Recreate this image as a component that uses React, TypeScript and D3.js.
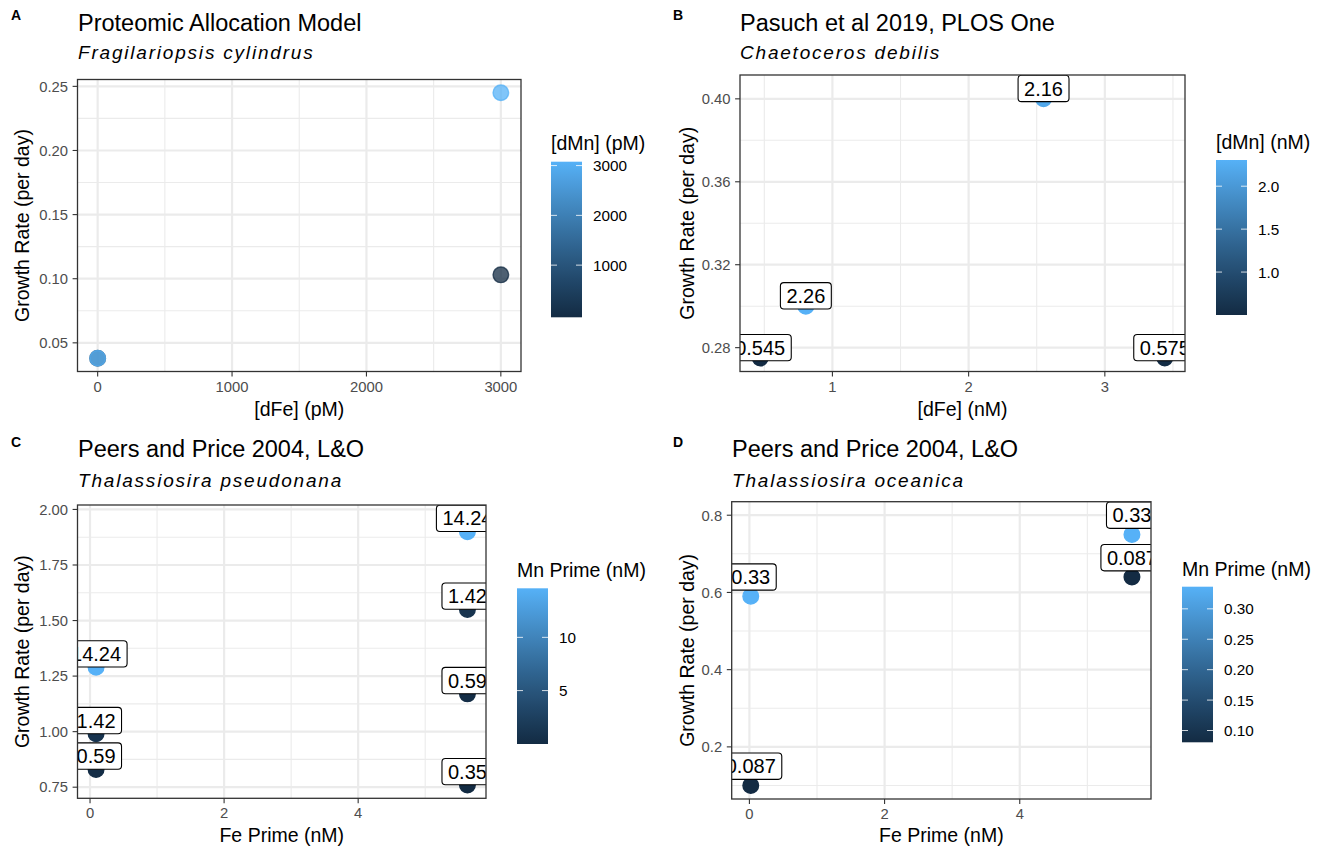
import React from "react";
import * as d3 from "d3";

// ggplot-style continuous colour ramp for Mn
const LOW = "#132B43";
const HIGH = "#56B1F7";
const FONT = '"Liberation Sans", Arial, Helvetica, sans-serif';

// A: Proteomic Allocation Model, Fragilariopsis cylindrus
const aFe = [0, 0, 3000, 3000];
const aMn = [30, 3000, 30, 3000];
const aGrowth = [0.038, 0.038, 0.103, 0.245];
const aXTicks = [0, 1000, 2000, 3000];
const aYTicks = [0.05, 0.1, 0.15, 0.2, 0.25];
const aLegendTicks = [1000, 2000, 3000];

// B: Pasuch et al 2019, Chaetoceros debilis
const bFe = [0.47, 0.805, 2.55, 3.44];
const bMn = [0.545, 2.26, 2.16, 0.575];
const bGrowth = [0.275, 0.3, 0.4, 0.275];
const bXTicks = [1, 2, 3];
const bYTicks = [0.28, 0.32, 0.36, 0.4];
const bLegendTicks = [1.0, 1.5, 2.0];

// C: Peers and Price 2004, Thalassiosira pseudonana
const cFe = [0.09, 0.09, 0.09, 5.63, 5.63, 5.63, 5.63];
const cMn = [14.24, 1.42, 0.59, 14.24, 1.42, 0.59, 0.35];
const cGrowth = [1.29, 0.99, 0.83, 1.9, 1.55, 1.17, 0.76];
const cXTicks = [0, 2, 4];
const cYTicks = [0.75, 1.0, 1.25, 1.5, 1.75, 2.0];
const cLegendTicks = [5, 10];

// D: Peers and Price 2004, Thalassiosira oceanica
const dFe = [0.02, 0.02, 5.66, 5.66];
const dMn = [0.33, 0.087, 0.33, 0.087];
const dGrowth = [0.59, 0.1, 0.75, 0.64];
const dXTicks = [0, 2, 4];
const dYTicks = [0.2, 0.4, 0.6, 0.8];
const dLegendTicks = [0.1, 0.15, 0.2, 0.25, 0.3];

let measureCtx: CanvasRenderingContext2D | null = null;
function textWidth(s: string, size: number) {
  if (!measureCtx && typeof document !== "undefined") {
    measureCtx = document.createElement("canvas").getContext("2d");
  }
  if (!measureCtx) return s.length * size * 0.55;
  measureCtx.font = `${size}px ${FONT}`;
  return measureCtx.measureText(s).width;
}

function expand([lo, hi]: [number, number], mult = 0.05): [number, number] {
  const r = hi - lo;
  return [lo - r * mult, hi + r * mult];
}

function minorBreaks(major: number[], domain: [number, number]) {
  const step = major[1] - major[0];
  const out: number[] = [];
  for (let i = -1; i < major.length; i++) {
    const m = major[0] + (i + 0.5) * step;
    if (m >= domain[0] && m <= domain[1]) out.push(m);
  }
  return out;
}

type Spec = {
  tag: string;
  title: string;
  subtitle: string;
  xLabel: string;
  legendTitle: string;
  fe: number[];
  mn: number[];
  growth: number[];
  showLabels: boolean;
  nudge: number;
  alpha: number;
  xTicks: number[];
  yTicks: number[];
  legendTicks: number[];
  xFmt: (v: number) => string;
  yFmt: (v: number) => string;
  legendFmt: (v: number) => string;
  box: { left: number; right: number; top: number; bottom: number };
  legend: { x: number; top: number; bottom: number; titleY: number };
  text: {
    titleX: number;
    titleY: number;
    subY: number;
    tagX: number;
    tagY: number;
    yLabX: number;
    xLabY: number;
  };
};

const specs: Spec[] = [
  {
    tag: "A",
    title: "Proteomic Allocation Model",
    subtitle: "Fragilariopsis cylindrus",
    xLabel: "[dFe] (pM)",
    legendTitle: "[dMn] (pM)",
    fe: aFe,
    mn: aMn,
    growth: aGrowth,
    showLabels: false,
    nudge: 0,
    alpha: 0.75,
    xTicks: aXTicks,
    yTicks: aYTicks,
    legendTicks: aLegendTicks,
    xFmt: d3.format("d"),
    yFmt: d3.format(".2f"),
    legendFmt: d3.format("d"),
    box: { left: 77.5, right: 521, top: 79.5, bottom: 371.5 },
    legend: { x: 551, top: 161.7, bottom: 317.3, titleY: 150 },
    text: { titleX: 78, titleY: 31, subY: 59, tagX: 11, tagY: 19.5, yLabX: 29, xLabY: 416 },
  },
  {
    tag: "B",
    title: "Pasuch et al 2019, PLOS One",
    subtitle: "Chaetoceros debilis",
    xLabel: "[dFe] (nM)",
    legendTitle: "[dMn] (nM)",
    fe: bFe,
    mn: bMn,
    growth: bGrowth,
    showLabels: true,
    nudge: 0.005,
    alpha: 1,
    xTicks: bXTicks,
    yTicks: bYTicks,
    legendTicks: bLegendTicks,
    xFmt: d3.format("d"),
    yFmt: d3.format(".2f"),
    legendFmt: d3.format(".1f"),
    box: { left: 740, right: 1185, top: 75, bottom: 371.5 },
    legend: { x: 1216, top: 160, bottom: 315, titleY: 149 },
    text: { titleX: 740, titleY: 31, subY: 59, tagX: 673, tagY: 19.5, yLabX: 694, xLabY: 416 },
  },
  {
    tag: "C",
    title: "Peers and Price 2004, L&O",
    subtitle: "Thalassiosira pseudonana",
    xLabel: "Fe Prime (nM)",
    legendTitle: "Mn Prime (nM)",
    fe: cFe,
    mn: cMn,
    growth: cGrowth,
    showLabels: true,
    nudge: 0.06,
    alpha: 1,
    xTicks: cXTicks,
    yTicks: cYTicks,
    legendTicks: cLegendTicks,
    xFmt: d3.format("d"),
    yFmt: d3.format(".2f"),
    legendFmt: d3.format("d"),
    box: { left: 77.5, right: 486, top: 505, bottom: 798.3 },
    legend: { x: 517, top: 588.3, bottom: 744, titleY: 577 },
    text: { titleX: 78, titleY: 456.7, subY: 486.7, tagX: 11, tagY: 446.5, yLabX: 29, xLabY: 842 },
  },
  {
    tag: "D",
    title: "Peers and Price 2004, L&O",
    subtitle: "Thalassiosira oceanica",
    xLabel: "Fe Prime (nM)",
    legendTitle: "Mn Prime (nM)",
    fe: dFe,
    mn: dMn,
    growth: dGrowth,
    showLabels: true,
    nudge: 0.05,
    alpha: 1,
    xTicks: dXTicks,
    yTicks: dYTicks,
    legendTicks: dLegendTicks,
    xFmt: d3.format("d"),
    yFmt: d3.format(".1f"),
    legendFmt: d3.format(".2f"),
    box: { left: 731.7, right: 1151, top: 501.7, bottom: 799 },
    legend: { x: 1182, top: 586.7, bottom: 742.3, titleY: 576 },
    text: { titleX: 732, titleY: 456.7, subY: 486.7, tagX: 673, tagY: 446.5, yLabX: 694, xLabY: 842 },
  },
];

const AXIS_TEXT = 14.8;
const TITLE_SIZE = 23.5;
const SUB_SIZE = 19;
const AXIS_TITLE = 19.5;
const LEGEND_TEXT = 15.3;
const LABEL_SIZE = 20;
const LABEL_PAD = 6;

function Panel({ spec }: { spec: Spec }) {
  const { box, legend, text } = spec;
  const xDomain = expand(d3.extent(spec.fe) as [number, number]);
  const yTop = spec.showLabels
    ? (d3.max(spec.growth.map((g) => g + spec.nudge)) as number)
    : (d3.max(spec.growth) as number);
  const yDomain = expand([d3.min(spec.growth) as number, yTop]);
  const x = d3.scaleLinear().domain(xDomain).range([box.left, box.right]);
  const y = d3.scaleLinear().domain(yDomain).range([box.bottom, box.top]);
  const mnExt = d3.extent(spec.mn) as [number, number];
  const color = d3
    .scaleLinear<string>()
    .domain(mnExt)
    .range([LOW, HIGH])
    .interpolate(d3.interpolateLab);

  const xMinor = minorBreaks(spec.xTicks, xDomain);
  const yMinor = minorBreaks(spec.yTicks, yDomain);
  const clipId = `clip-${spec.tag}`;
  const gradId = `grad-${spec.tag}`;
  const cx = (box.left + box.right) / 2;
  const cy = (box.top + box.bottom) / 2;

  // colourbar
  const barW = 31;
  const barH = legend.bottom - legend.top;
  const stops = d3.range(0, 1.0001, 0.05);
  const legendY = (v: number) =>
    legend.bottom - (0.025 + (0.95 * (v - mnExt[0])) / (mnExt[1] - mnExt[0])) * barH;

  return (
    <g>
      <defs>
        <clipPath id={clipId}>
          <rect x={box.left} y={box.top} width={box.right - box.left} height={box.bottom - box.top} />
        </clipPath>
        <linearGradient id={gradId} x1="0" y1="1" x2="0" y2="0">
          {stops.map((t) => (
            <stop key={t} offset={t} stopColor={color(mnExt[0] + t * (mnExt[1] - mnExt[0]))} />
          ))}
        </linearGradient>
      </defs>

      {/* tag, title, subtitle */}
      <text x={text.tagX} y={text.tagY} fontFamily={FONT} fontWeight="bold" fontSize={14} fill="#000">
        {spec.tag}
      </text>
      <text x={text.titleX} y={text.titleY} fontFamily={FONT} fontSize={TITLE_SIZE} fill="#000">
        {spec.title}
      </text>
      <text
        x={text.titleX}
        y={text.subY}
        fontFamily={FONT}
        fontSize={SUB_SIZE}
        fontStyle="italic"
        letterSpacing={1.8}
        fill="#000"
      >
        {spec.subtitle}
      </text>

      {/* panel background and grid */}
      <rect x={box.left} y={box.top} width={box.right - box.left} height={box.bottom - box.top} fill="#fff" />
      {xMinor.map((v) => (
        <line key={`xm${v}`} x1={x(v)} x2={x(v)} y1={box.top} y2={box.bottom} stroke="#EBEBEB" strokeWidth={1.1} />
      ))}
      {yMinor.map((v) => (
        <line key={`ym${v}`} x1={box.left} x2={box.right} y1={y(v)} y2={y(v)} stroke="#EBEBEB" strokeWidth={1.1} />
      ))}
      {spec.xTicks.map((v) => (
        <line key={`xM${v}`} x1={x(v)} x2={x(v)} y1={box.top} y2={box.bottom} stroke="#EBEBEB" strokeWidth={2.2} />
      ))}
      {spec.yTicks.map((v) => (
        <line key={`yM${v}`} x1={box.left} x2={box.right} y1={y(v)} y2={y(v)} stroke="#EBEBEB" strokeWidth={2.2} />
      ))}

      {/* points and value labels */}
      <g clipPath={`url(#${clipId})`}>
        {spec.fe.map((fe, i) => (
          <circle
            key={`p${i}`}
            cx={x(fe)}
            cy={y(spec.growth[i])}
            r={7.8}
            fill={color(spec.mn[i])}
            fillOpacity={spec.alpha}
            stroke={color(spec.mn[i])}
            strokeOpacity={spec.alpha}
            strokeWidth={1.4}
          />
        ))}
        {spec.showLabels &&
          spec.fe.map((fe, i) => {
            const label = String(spec.mn[i]);
            const w = textWidth(label, LABEL_SIZE) + 2 * LABEL_PAD;
            const h = LABEL_SIZE * 0.716 + 2 * LABEL_PAD;
            const lx = x(fe);
            const ly = y(spec.growth[i] + spec.nudge);
            return (
              <g key={`l${i}`}>
                <rect
                  x={lx - w / 2}
                  y={ly - h / 2}
                  width={w}
                  height={h}
                  rx={3.5}
                  fill="#fff"
                  stroke="#000"
                  strokeWidth={1.1}
                />
                <text
                  x={lx}
                  y={ly + LABEL_SIZE * 0.358}
                  textAnchor="middle"
                  fontFamily={FONT}
                  fontSize={LABEL_SIZE}
                  fill="#000"
                >
                  {label}
                </text>
              </g>
            );
          })}
      </g>

      {/* panel border */}
      <rect
        x={box.left}
        y={box.top}
        width={box.right - box.left}
        height={box.bottom - box.top}
        fill="none"
        stroke="#333333"
        strokeWidth={1.3}
      />

      {/* axes */}
      {spec.xTicks.map((v) => (
        <g key={`xt${v}`}>
          <line x1={x(v)} x2={x(v)} y1={box.bottom} y2={box.bottom + 4.9} stroke="#333333" strokeWidth={1.1} />
          <text
            x={x(v)}
            y={box.bottom + 20}
            textAnchor="middle"
            fontFamily={FONT}
            fontSize={AXIS_TEXT}
            fill="#4D4D4D"
          >
            {spec.xFmt(v)}
          </text>
        </g>
      ))}
      {spec.yTicks.map((v) => (
        <g key={`yt${v}`}>
          <line x1={box.left - 4.9} x2={box.left} y1={y(v)} y2={y(v)} stroke="#333333" strokeWidth={1.1} />
          <text
            x={box.left - 9.5}
            y={y(v) + AXIS_TEXT * 0.358}
            textAnchor="end"
            fontFamily={FONT}
            fontSize={AXIS_TEXT}
            fill="#4D4D4D"
          >
            {spec.yFmt(v)}
          </text>
        </g>
      ))}
      <text x={cx} y={text.xLabY} textAnchor="middle" fontFamily={FONT} fontSize={AXIS_TITLE} fill="#000">
        {spec.xLabel}
      </text>
      <text
        transform={`translate(${text.yLabX},${cy}) rotate(-90)`}
        textAnchor="middle"
        fontFamily={FONT}
        fontSize={AXIS_TITLE}
        fill="#000"
      >
        Growth Rate (per day)
      </text>

      {/* colour bar legend */}
      <text x={legend.x} y={legend.titleY} fontFamily={FONT} fontSize={AXIS_TITLE} fill="#000">
        {spec.legendTitle}
      </text>
      <rect x={legend.x} y={legend.top} width={barW} height={barH} fill={`url(#${gradId})`} />
      {spec.legendTicks.map((v) => (
        <g key={`lt${v}`}>
          <line x1={legend.x} x2={legend.x + 6} y1={legendY(v)} y2={legendY(v)} stroke="#fff" strokeOpacity={0.8} strokeWidth={1} />
          <line
            x1={legend.x + barW - 6}
            x2={legend.x + barW}
            y1={legendY(v)}
            y2={legendY(v)}
            stroke="#fff"
            strokeOpacity={0.8}
            strokeWidth={1}
          />
          <text
            x={legend.x + barW + 11}
            y={legendY(v) + LEGEND_TEXT * 0.358}
            fontFamily={FONT}
            fontSize={LEGEND_TEXT}
            fill="#000"
          >
            {spec.legendFmt(v)}
          </text>
        </g>
      ))}
    </g>
  );
}

export default function App() {
  return (
    <svg
      width={1318}
      height={849}
      viewBox="0 0 1318 849"
      style={{ position: "absolute", left: 0, top: 0, display: "block", background: "#fff" }}
    >
      <rect width={1318} height={849} fill="#fff" />
      {specs.map((s) => (
        <Panel key={s.tag} spec={s} />
      ))}
    </svg>
  );
}
